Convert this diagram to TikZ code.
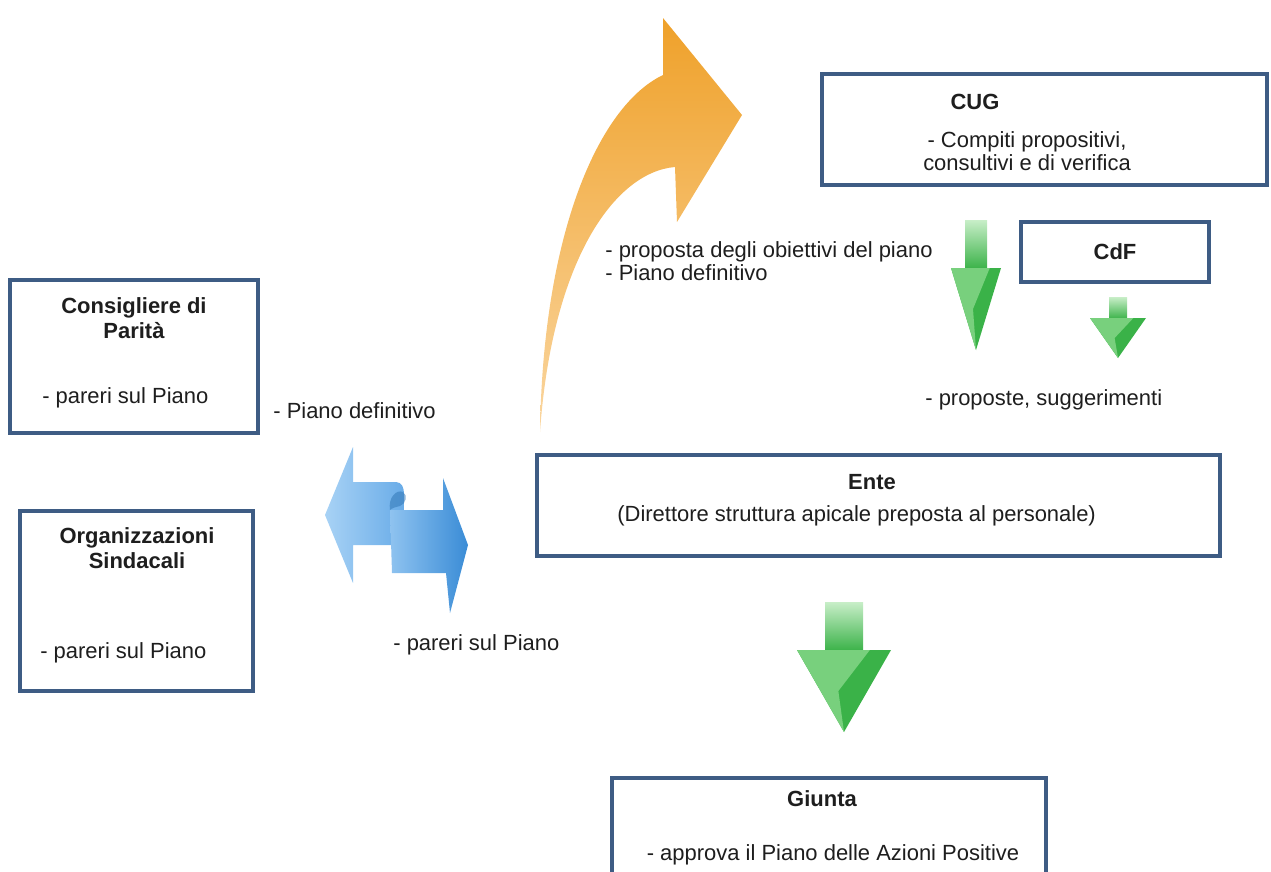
\documentclass[tikz,border=0pt]{standalone}
\usepackage{fontspec}
\setmainfont{Liberation Sans}
\usetikzlibrary{fit}
\definecolor{boxblue}{RGB}{62,92,132}
\definecolor{orng}{RGB}{239,161,42}
\definecolor{orngLight}{RGB}{250,214,160}
\definecolor{gMid}{RGB}{58,178,72}
\definecolor{gLight}{RGB}{120,208,125}
\definecolor{gPale}{RGB}{200,238,200}
\definecolor{bLight}{RGB}{168,210,245}
\definecolor{bMid}{RGB}{105,172,232}
\definecolor{bDark}{RGB}{58,140,214}
\definecolor{txtc}{RGB}{30,30,30}
\newcommand\gdownarrow[6]{%
  \shade[top color=gPale, bottom color=gMid] ({#1-#2},#3) rectangle ({#1+#2},{#4+1});
  \fill[gMid] ({#1-#5},#4) -- ({#1+#5},#4) -- (#1,#6) -- cycle;
  \fill[gLight] ({#1-#5},#4) -- ({#1+0.55*#5},#4) -- ({#1-0.12*#5},{#4+0.5*(#6-#4)}) -- (#1,#6) -- cycle;
}
\begin{document}
\begin{tikzpicture}[x=0.02cm,y=-0.02cm,
  box/.style={draw=boxblue, line width=2pt, fill=white, inner sep=0pt},
  txt/.style={font=\fontsize{12.5}{13}\selectfont, inner sep=0pt, text=txtc},
  ttl/.style={font=\fontsize{12.5}{14.2}\selectfont\bfseries, inner sep=0pt, align=center, text=txtc},
]
\useasboundingbox (0,0) rectangle (1271,872);
\clip (0,0) rectangle (1271,872);

% boxes
\node[box, fit={(10,280) (258,433)}] (cons) {};
\node[box, fit={(20,511) (253,691)}] (org) {};
\node[box, fit={(822,74) (1267,185)}] (cug) {};
\node[box, fit={(1021,222) (1209,282)}] (cdf) {};
\node[box, fit={(537,455) (1220,556)}] (ente) {};
\node[box, fit={(612,778) (1046,900)}] (giunta) {};

% box texts
\node[ttl] (consT) at (134,318) {Consigliere di\\Parità};
\node[txt, anchor=west] (consP) at (42,398) {- pareri sul Piano};
\node[ttl] (orgT) at (137,548) {Organizzazioni\\Sindacali};
\node[txt, anchor=west] (orgP) at (40,653) {- pareri sul Piano};
\node[ttl] (cugT) at (975,102) {CUG};
\node[txt, align=center, font=\fontsize{12.5}{12.8}\selectfont] (cugP) at (1027,151) {- Compiti propositivi,\\consultivi e di verifica};
\node[ttl] (cdfT) at (1115,252) {CdF};
\node[ttl] (enteT) at (872,482) {Ente};
\node[txt, anchor=west] (enteP) at (617,516) {(Direttore struttura apicale preposta al personale)};
\node[ttl] (giuT) at (822,799) {Giunta};
\node[txt] (giuP) at (833,855) {- approva il Piano delle Azioni Positive};

% free labels
\node[txt, anchor=west] (l1) at (273,411) {- Piano definitivo};
\node[txt, anchor=west] (l2) at (393,645) {- pareri sul Piano};
\node[txt, anchor=west, align=left, font=\fontsize{12.5}{13}\selectfont] (l3) at (605,261) {- proposta degli obiettivi del piano\\- Piano definitivo};
\node[txt, anchor=west] (l4) at (925,400) {- proposte, suggerimenti};

% orange curved arrow
\shade[top color=orng, middle color=orng, bottom color=orngLight]
  (540,432) .. controls (543,230) and (600,105) .. (663,75)
  -- (663,18) -- (742,115) -- (677,222) -- (675,167)
  .. controls (615,172) and (552,260) .. (540,432) -- cycle;

% blue double arrow
\shade[left color=bLight, right color=bMid]
  (325,515) -- (353,447) -- (353,482) -- (396,482)
  .. controls (402,482) and (404,488) .. (404,494) -- (404,545) -- (353,545) -- (353,583) -- cycle;
\shade[left color=bLight!60!bMid, right color=bDark]
  (390,510) -- (443,510) -- (443,478) -- (468,545) -- (450,613) -- (446,573) -- (392,573) -- cycle;
\fill[bDark!85!black, opacity=0.55]
  (390,510) .. controls (388,498) and (396,489) .. (403,492)
  .. controls (408,495) and (406,504) .. (400,506) .. controls (396,507) and (392,508) .. (390,510) -- cycle;

% green arrows
\gdownarrow{844}{19}{602}{650}{47}{732}
\gdownarrow{976}{11}{220}{268}{25}{350}
\gdownarrow{1118}{9}{297}{318}{28}{358}
\end{tikzpicture}
\end{document}
